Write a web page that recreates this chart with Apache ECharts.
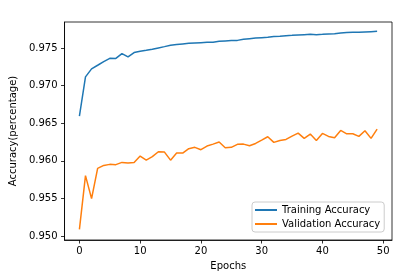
<!DOCTYPE html>
<html>
<head>
<meta charset="utf-8">
<script src="https://cdn.jsdelivr.net/npm/echarts@6/dist/echarts.min.js"></script>
<style>html,body{margin:0;padding:0;background:#fff;}#c{width:398px;height:278px;}</style>
</head>
<body>
<div id="c"></div>
<script>
const epochs = Array.from({length: 50}, (_, i) => i);
const trainAcc = [0.96594,0.97116,0.97222,0.9727,0.97319,0.97362,0.9736,0.97425,0.97381,0.97438,
  0.97455,0.97468,0.97482,0.975,0.97517,0.97535,0.97544,0.97553,0.97561,0.97566,
  0.9757,0.97574,0.97576,0.97587,0.97593,0.97597,0.976,0.97614,0.97623,0.97632,
  0.97636,0.9764,0.9765,0.97654,0.97663,0.97667,0.97672,0.97676,0.9768,0.97676,
  0.9768,0.97685,0.97689,0.97698,0.97703,0.97707,0.97707,0.97712,0.97716,0.9772];
const valAcc = [0.9509,0.95805,0.955,0.95901,0.9594,0.95954,0.9595,0.9598,0.95972,0.9598,
  0.96064,0.96011,0.96056,0.96122,0.96117,0.9601,0.96104,0.96104,0.96162,0.9618,
  0.96149,0.96197,0.96223,0.9625,0.96175,0.9618,0.9622,0.96223,0.96202,0.96232,
  0.96276,0.96321,0.96246,0.96272,0.96285,0.96329,0.96369,0.96299,0.96356,0.96272,
  0.96365,0.96325,0.96308,0.96405,0.9636,0.9636,0.96325,0.964,0.96299,0.96422];
const xTicks = [0, 10, 20, 30, 40, 50];
const yTicks = [0.950, 0.955, 0.960, 0.965, 0.970, 0.975];
const seriesNames = ['Training Accuracy', 'Validation Accuracy'];

const font = 'DejaVu Sans';
const chart = echarts.init(document.getElementById('c'), null, {renderer: 'canvas'});
chart.setOption({
  animation: false,
  backgroundColor: '#fff',
  grid: {left: 57.5, top: 22, right: 6, bottom: 38, show: true, borderColor: '#000', borderWidth: 0.8, containLabel: false},
  legend: {
    data: seriesNames,
    orient: 'vertical',
    left: 252, top: 202,
    padding: [3, 4, 3, 3],
    itemWidth: 22, itemHeight: 2,
    itemGap: 4,
    icon: 'rect',
    borderColor: '#ccc', borderWidth: 1, borderRadius: 3,
    backgroundColor: 'rgba(255,255,255,0.8)',
    textStyle: {fontFamily: font, fontSize: 10, color: '#000'}
  },
  xAxis: {
    type: 'value', min: -2.45, max: 51.45,
    name: 'Epochs', nameLocation: 'middle', nameGap: 21,
    nameTextStyle: {fontFamily: font, fontSize: 10, color: '#000'},
    axisLine: {show: true, onZero: false, lineStyle: {color: '#000', width: 0.8}},
    axisTick: {show: true, inside: false, length: 3.5, lineStyle: {color: '#000', width: 0.8}, customValues: xTicks},
    axisLabel: {customValues: xTicks, margin: 6, fontFamily: font, fontSize: 10, color: '#000'},
    splitLine: {show: false}
  },
  yAxis: {
    type: 'value', min: 0.9495, max: 0.97844,
    name: 'Accuracy(percentage)', nameLocation: 'middle', nameGap: 40, nameRotate: 90,
    nameTextStyle: {fontFamily: font, fontSize: 10, color: '#000'},
    axisLine: {show: true, onZero: false, lineStyle: {color: '#000', width: 0.8}},
    axisTick: {show: true, inside: false, length: 3.5, lineStyle: {color: '#000', width: 0.8}, customValues: yTicks},
    axisLabel: {customValues: yTicks, margin: 7, fontFamily: font, fontSize: 10, color: '#000', formatter: v => v.toFixed(3)},
    splitLine: {show: false}
  },
  series: [
    {name: seriesNames[0], type: 'line', data: epochs.map((e, i) => [e, trainAcc[i]]), showSymbol: false, symbol: 'none',
     lineStyle: {color: '#1f77b4', width: 1.5}, itemStyle: {color: '#1f77b4'}},
    {name: seriesNames[1], type: 'line', data: epochs.map((e, i) => [e, valAcc[i]]), showSymbol: false, symbol: 'none',
     lineStyle: {color: '#ff7f0e', width: 1.5}, itemStyle: {color: '#ff7f0e'}}
  ]
});
</script>
</body>
</html>
